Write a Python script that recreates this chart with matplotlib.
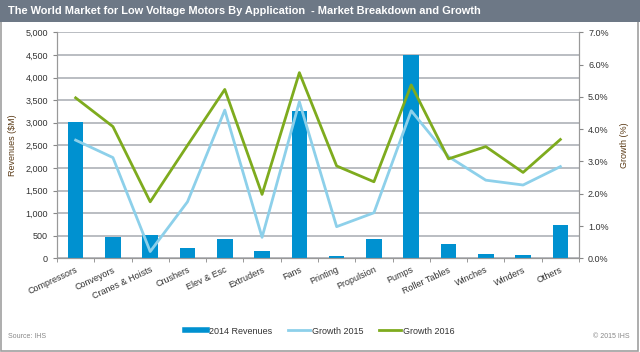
import matplotlib
matplotlib.use("Agg")
import matplotlib.pyplot as plt
from matplotlib.lines import Line2D
from matplotlib.patches import Rectangle
from matplotlib.ticker import FuncFormatter, FixedLocator
import numpy as np

plt.rcParams['font.family'] = ['Liberation Sans', 'DejaVu Sans']

categories = ["Compressors", "Conveyors", "Cranes & Hoists", "Crushers", "Elev & Esc",
              "Extruders", "Fans", "Printing", "Propulsion", "Pumps", "Roller Tables",
              "Winches", "Winders", "Others"]
revenues_2014 = [3020, 478, 515, 221, 420, 161, 3265, 58, 420, 4500, 316, 95, 80, 737]
growth_2015 = [3.66, 3.12, 0.21, 1.75, 4.59, 0.65, 4.85, 0.98, 1.41, 4.57, 3.15, 2.42, 2.27, 2.84]
growth_2016 = [4.97, 4.08, 1.75, 3.50, 5.23, 1.98, 5.75, 2.86, 2.37, 5.37, 3.08, 3.46, 2.66, 3.68]

title = "The World Market for Low Voltage Motors By Application  - Market Breakdown and Growth"

bar_color = "#0091d0"
g15_color = "#8dd0ea"
g16_color = "#7eab1e"
grid_color = "#a7abb2"
label_color = "#5b3b17"
text_color = "#333333"

fig = plt.figure(figsize=(6.4, 3.52), dpi=100)
fig.patch.set_facecolor("white")

# border and title bar
fig.patches.append(Rectangle((0.002, 0.003), 0.995, 0.994, transform=fig.transFigure,
                             fill=False, edgecolor="#a0a0a0", linewidth=1.2, zorder=0))
fig.patches.append(Rectangle((0.0, 1 - 22 / 352), 1.0, 22 / 352, transform=fig.transFigure,
                             facecolor="#6d7886", edgecolor="none", zorder=1))
fig.text(8 / 640, 1 - 11 / 352, title, color="white", fontsize=7.9, fontweight="bold",
         va="center", ha="left")

ax = fig.add_axes([57 / 640, 1 - 258.3 / 352, (579 - 57) / 640, (258.3 - 32.3) / 352])
x = np.arange(len(categories))
ax.bar(x, revenues_2014, width=0.42, color=bar_color, zorder=3)
ax.set_xlim(-0.5, len(categories) - 0.5)
ax.set_ylim(0, 5000)
ax.set_yticks(np.arange(0, 5001, 500))
ax.yaxis.set_major_formatter(FuncFormatter(lambda v, p: f"{int(v):,}"))
ax.grid(axis="y", color=grid_color, linewidth=1.1, zorder=0)
ax.set_axisbelow(True)
ax.set_xticks(x)
ax.set_xticklabels(categories, rotation=25, ha="right", rotation_mode="anchor",
                   fontsize=6.5, color=text_color)
ax.tick_params(axis="x", length=0, pad=5)
ax.xaxis.set_minor_locator(FixedLocator(np.arange(-0.5, len(categories), 1.0)))
ax.tick_params(axis="x", which="minor", length=3, color="#888888", direction="out")
ax.tick_params(axis="y", labelsize=6.5, labelcolor=text_color, length=3, color="#888888")
for s in ["top"]:
    ax.spines[s].set_visible(False)
for s in ["left", "right", "bottom"]:
    ax.spines[s].set_color("#999999")
ax.set_ylabel("Revenues ($M)", fontsize=6.5, color=label_color, labelpad=6)

ax2 = ax.twinx()
ax2.plot(x, growth_2015, color=g15_color, linewidth=2, zorder=4)
ax2.plot(x, growth_2016, color=g16_color, linewidth=2, zorder=5)
ax2.set_ylim(0, 7)
ax2.set_yticks(np.arange(0, 7.01, 1))
ax2.yaxis.set_major_formatter(FuncFormatter(lambda v, p: f"{v:.1f}%"))
ax2.tick_params(axis="y", labelsize=6.5, labelcolor=text_color, length=3, color="#888888")
ax2.spines["top"].set_visible(False)
for s in ["left", "right", "bottom"]:
    ax2.spines[s].set_color("#999999")
ax2.set_ylabel("Growth (%)", fontsize=6.5, color=label_color, rotation=90, labelpad=8)

handles = [Line2D([0], [0], color=bar_color, linewidth=4),
           Line2D([0], [0], color=g15_color, linewidth=2),
           Line2D([0], [0], color=g16_color, linewidth=2)]
fig.legend(handles, ["2014 Revenues", "Growth 2015", "Growth 2016"],
           loc="center", bbox_to_anchor=(320 / 640, 1 - 331 / 352), ncol=3,
           frameon=False, fontsize=6.5, handlelength=2.4, handletextpad=0.2,
           columnspacing=1.8, labelcolor=text_color)

fig.text(8 / 640, 1 - 336 / 352, "Source: IHS", fontsize=5, color="#888888", va="center")
fig.text(630 / 640, 1 - 336 / 352, "\u00a9 2015 IHS", fontsize=5, color="#888888",
         va="center", ha="right")

fig.savefig("out.png", dpi=100, facecolor="white")
